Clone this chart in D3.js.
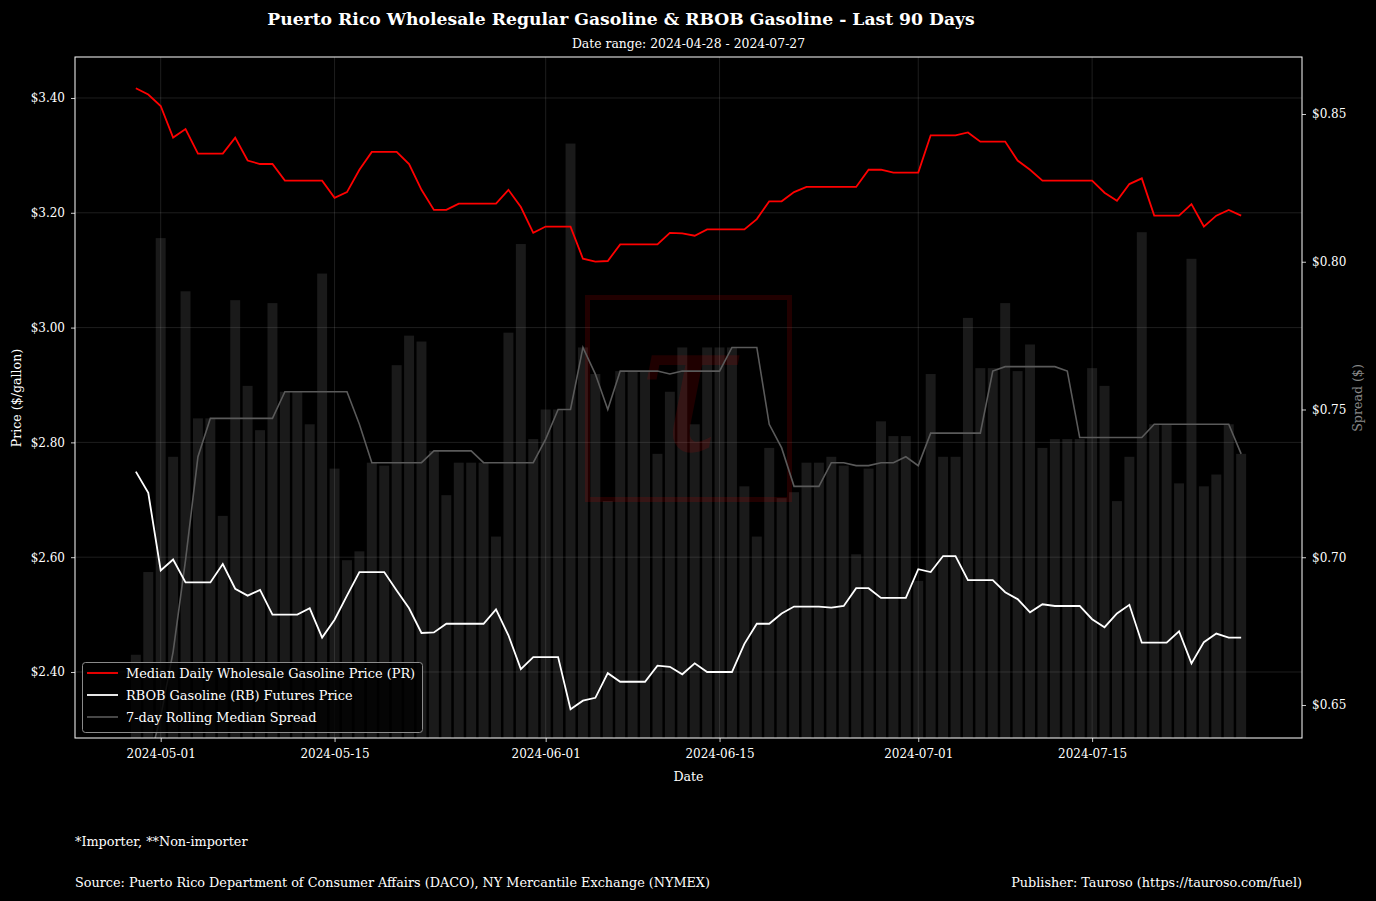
<!DOCTYPE html>
<html><head><meta charset="utf-8">
<script src="https://cdn.jsdelivr.net/npm/d3@7"></script>
<style>
html,body{margin:0;padding:0;background:#000;}
svg{display:block;}
text{font-family:"DejaVu Serif",serif;}
</style></head>
<body>
<svg id="chart" width="1376" height="901"></svg>
<script>
// ---------------- DATA ----------------
const startDate = "2024-04-29";   // first observation
const endDate   = "2024-07-27";   // last observation
const prPrice = [3.417,3.406,3.386,3.331,3.346,3.303,3.303,3.303,3.331,3.291,
  3.285,3.285,3.256,3.256,3.256,3.256,3.226,3.236,3.275,3.306,
  3.306,3.306,3.285,3.240,3.205,3.205,3.216,3.216,3.216,3.216,
  3.240,3.210,3.165,3.176,3.176,3.176,3.120,3.115,3.116,3.145,
  3.145,3.145,3.145,3.165,3.164,3.160,3.171,3.171,3.171,3.171,
  3.189,3.220,3.220,3.236,3.245,3.245,3.245,3.245,3.245,3.275,
  3.275,3.270,3.270,3.270,3.335,3.335,3.335,3.340,3.324,3.324,
  3.324,3.291,3.275,3.256,3.256,3.256,3.256,3.256,3.235,3.221,
  3.250,3.260,3.195,3.195,3.195,3.215,3.176,3.195,3.205,3.195];
const rbobPrice = [2.749,2.712,2.577,2.596,2.556,2.556,2.556,2.588,2.545,2.533,
  2.543,2.500,2.500,2.500,2.511,2.460,2.491,2.533,2.574,2.574,
  2.574,2.542,2.511,2.468,2.469,2.484,2.484,2.484,2.484,2.509,
  2.464,2.405,2.426,2.426,2.426,2.335,2.350,2.355,2.398,2.383,
  2.383,2.383,2.411,2.409,2.396,2.415,2.400,2.400,2.400,2.449,
  2.484,2.484,2.502,2.514,2.514,2.514,2.512,2.515,2.546,2.546,
  2.529,2.529,2.529,2.579,2.574,2.602,2.602,2.560,2.560,2.560,
  2.539,2.527,2.504,2.518,2.515,2.515,2.515,2.492,2.478,2.502,
  2.517,2.451,2.451,2.451,2.471,2.415,2.452,2.467,2.460,2.460];
const spread = [0.667,0.695,0.808,0.734,0.790,0.747,0.747,0.714,0.787,0.758,
  0.743,0.786,0.756,0.756,0.745,0.796,0.730,0.699,0.702,0.732,
  0.731,0.765,0.775,0.773,0.736,0.721,0.732,0.732,0.732,0.707,
  0.776,0.806,0.740,0.750,0.750,0.840,0.771,0.762,0.719,0.763,
  0.763,0.763,0.735,0.756,0.771,0.745,0.771,0.771,0.771,0.724,
  0.707,0.737,0.720,0.722,0.732,0.732,0.734,0.731,0.701,0.730,
  0.746,0.741,0.741,0.692,0.762,0.734,0.734,0.781,0.764,0.764,
  0.786,0.763,0.772,0.737,0.740,0.740,0.740,0.764,0.758,0.719,
  0.734,0.810,0.745,0.745,0.725,0.801,0.724,0.728,0.745,0.735];
const rollingSpread = [0.620,0.630,0.646,0.668,0.699,0.734,0.747,0.747,0.747,0.747,
  0.747,0.747,0.756,0.756,0.756,0.756,0.756,0.756,0.745,0.732,
  0.732,0.732,0.732,0.732,0.736,0.736,0.736,0.736,0.732,0.732,
  0.732,0.732,0.732,0.740,0.750,0.750,0.771,0.762,0.750,0.763,
  0.763,0.763,0.763,0.762,0.763,0.763,0.763,0.763,0.771,0.771,
  0.771,0.745,0.737,0.724,0.724,0.724,0.732,0.732,0.731,0.731,
  0.732,0.732,0.734,0.731,0.742,0.742,0.742,0.742,0.742,0.763,
  0.7645,0.7645,0.7645,0.7645,0.7645,0.763,0.7405,0.7405,0.7405,0.7405,
  0.7405,0.7405,0.745,0.745,0.745,0.745,0.745,0.745,0.745,0.735];
const xTickLabels = ["2024-05-01","2024-05-15","2024-06-01","2024-06-15","2024-07-01","2024-07-15"];
const priceTicks  = [2.40,2.60,2.80,3.00,3.20,3.40];
const spreadTicks = [0.65,0.70,0.75,0.80,0.85];
const seriesNames = ["Median Daily Wholesale Gasoline Price (PR)","RBOB Gasoline (RB) Futures Price","7-day Rolling Median Spread"];
const titleText = "Puerto Rico Wholesale Regular Gasoline & RBOB Gasoline - Last 90 Days";
const subtitleText = "Date range: 2024-04-28 - 2024-07-27";
const noteText = "*Importer, **Non-importer";
const sourceText = "Source: Puerto Rico Department of Consumer Affairs (DACO), NY Mercantile Exchange (NYMEX)";
const publisherText = "Publisher: Tauroso (https://tauroso.com/fuel)";

// ---------------- LAYOUT ----------------
const W = 1376, H = 901;
const M = {left:75, right:1302, top:57, bottom:738};
const parse = d3.utcParse("%Y-%m-%d");
const dates = d3.utcDay.range(parse(startDate), d3.utcDay.offset(parse(endDate),1));
const rows = dates.map((d,i)=>({date:d, pr:prPrice[i], rb:rbobPrice[i], sp:spread[i], roll:rollingSpread[i]}));

const pad = 4.9; // days of margin on each side
const x = d3.scaleUtc()
  .domain([new Date(+dates[0] - pad*864e5), new Date(+dates[dates.length-1] + pad*864e5)])
  .range([M.left, M.right]);
const yL = d3.scaleLinear().domain([2.2850, 3.4714]).range([M.bottom, M.top]);
const yR = d3.scaleLinear().domain([0.63883, 0.86929]).range([M.bottom, M.top]);

const svg = d3.select("#chart");
svg.append("rect").attr("width",W).attr("height",H).attr("fill","#000");
svg.append("defs").append("clipPath").attr("id","clip")
  .append("rect").attr("x",M.left).attr("y",M.top).attr("width",M.right-M.left).attr("height",M.bottom-M.top);

const plot = svg.append("g").attr("clip-path","url(#clip)");

// grid
const tickDates = xTickLabels.map(parse);
plot.append("g").selectAll("line").data(tickDates).join("line")
  .attr("x1",d=>x(d)).attr("x2",d=>x(d)).attr("y1",M.top).attr("y2",M.bottom)
  .attr("stroke","#fff").attr("stroke-opacity",0.15).attr("stroke-width",0.8);
plot.append("g").selectAll("line").data(priceTicks).join("line")
  .attr("x1",M.left).attr("x2",M.right).attr("y1",d=>yL(d)).attr("y2",d=>yL(d))
  .attr("stroke","#fff").attr("stroke-opacity",0.15).attr("stroke-width",0.8);

// bars (spread)
const dayPx = x(dates[1]) - x(dates[0]);
const bw = dayPx*0.8;
plot.append("g").selectAll("rect").data(rows).join("rect")
  .attr("x",d=>x(d.date)-bw/2).attr("width",bw)
  .attr("y",d=>yR(d.sp)).attr("height",d=>M.bottom - yR(d.sp))
  .attr("fill","#808080").attr("fill-opacity",0.2);

// watermark
const wm = plot.append("g");
wm.append("rect").attr("x",587.5).attr("y",297.5).attr("width",202).attr("height",202)
  .attr("fill","none").attr("stroke","#ff0000").attr("stroke-opacity",0.13).attr("stroke-width",5);
wm.append("text").attr("x",686).attr("y",452).attr("text-anchor","middle")
  .attr("font-size",185).attr("fill","#ff0000").attr("fill-opacity",0.12)
  .attr("font-style","italic").text("τ");

// rolling spread line
plot.append("path").datum(rows)
  .attr("d",d3.line().x(d=>x(d.date)).y(d=>yR(d.roll)))
  .attr("fill","none").attr("stroke","#5a5a5a").attr("stroke-width",1.6);
// PR line
plot.append("path").datum(rows)
  .attr("d",d3.line().x(d=>x(d.date)).y(d=>yL(d.pr)))
  .attr("fill","none").attr("stroke","#ff0000").attr("stroke-width",1.8);
// RBOB line
plot.append("path").datum(rows)
  .attr("d",d3.line().x(d=>x(d.date)).y(d=>yL(d.rb)))
  .attr("fill","none").attr("stroke","#ffffff").attr("stroke-width",1.8);

// axes
const fsTick = 12;
const axB = svg.append("g").attr("transform",`translate(0,${M.bottom})`)
  .call(d3.axisBottom(x).tickValues(tickDates).tickFormat(d3.utcFormat("%Y-%m-%d")).tickSize(4).tickPadding(7));
const axL = svg.append("g").attr("transform",`translate(${M.left},0)`)
  .call(d3.axisLeft(yL).tickValues(priceTicks).tickFormat(d=>"$"+d.toFixed(2)).tickSize(4).tickPadding(6));
const axR = svg.append("g").attr("transform",`translate(${M.right},0)`)
  .call(d3.axisRight(yR).tickValues(spreadTicks).tickFormat(d=>"$"+d.toFixed(2)).tickSize(4).tickPadding(6));
[axB,axL,axR].forEach(a=>{
  a.select(".domain").remove();
  a.selectAll(".tick line").attr("stroke","#fff").attr("stroke-width",0.8);
  a.selectAll(".tick text").attr("fill","#fff").attr("font-size",fsTick)
   .style("font-family","'DejaVu Serif',serif");
});
// spines
svg.append("rect").attr("x",M.left).attr("y",M.top).attr("width",M.right-M.left).attr("height",M.bottom-M.top)
  .attr("fill","none").attr("stroke","#fff").attr("stroke-width",1);

// legend
const lg = svg.append("g");
lg.append("rect").attr("x",82.5).attr("y",662.5).attr("width",340).attr("height",70).attr("rx",3)
  .attr("fill","#000").attr("fill-opacity",0.8).attr("stroke","#999").attr("stroke-opacity",0.9).attr("stroke-width",1);
const lgColors = ["#ff0000","#ffffff","#5a5a5a"];
seriesNames.forEach((n,i)=>{
  const yy = 673 + i*22;
  lg.append("line").attr("x1",87).attr("x2",118).attr("y1",yy).attr("y2",yy)
    .attr("stroke",lgColors[i]).attr("stroke-width",i==2?1.6:1.8);
  lg.append("text").attr("x",126).attr("y",yy).attr("dy","0.35em").attr("fill","#fff")
    .attr("font-size",12.9).text(n);
});

// titles and labels
svg.append("text").attr("x",621).attr("y",25).attr("text-anchor","middle").attr("fill","#fff")
  .attr("font-size",17.2).attr("font-weight","bold").text(titleText);
svg.append("text").attr("x",688.5).attr("y",48).attr("text-anchor","middle").attr("fill","#fff")
  .attr("font-size",12.4).text(subtitleText);
svg.append("text").attr("x",688.5).attr("y",781).attr("text-anchor","middle").attr("fill","#fff")
  .attr("font-size",12.6).text("Date");
svg.append("text").attr("transform","translate(21,398) rotate(-90)").attr("text-anchor","middle").attr("fill","#fff")
  .attr("font-size",12.6).text("Price ($/gallon)");
svg.append("text").attr("transform","translate(1362,398) rotate(-90)").attr("text-anchor","middle").attr("fill","#888")
  .attr("font-size",12.6).text("Spread ($)");
svg.append("text").attr("x",75).attr("y",846).attr("fill","#fff").attr("font-size",12.8).text(noteText);
svg.append("text").attr("x",75).attr("y",887).attr("fill","#fff").attr("font-size",12.8).text(sourceText);
svg.append("text").attr("x",1302).attr("y",887).attr("text-anchor","end").attr("fill","#fff").attr("font-size",12.8).text(publisherText);
</script>
</body></html>
